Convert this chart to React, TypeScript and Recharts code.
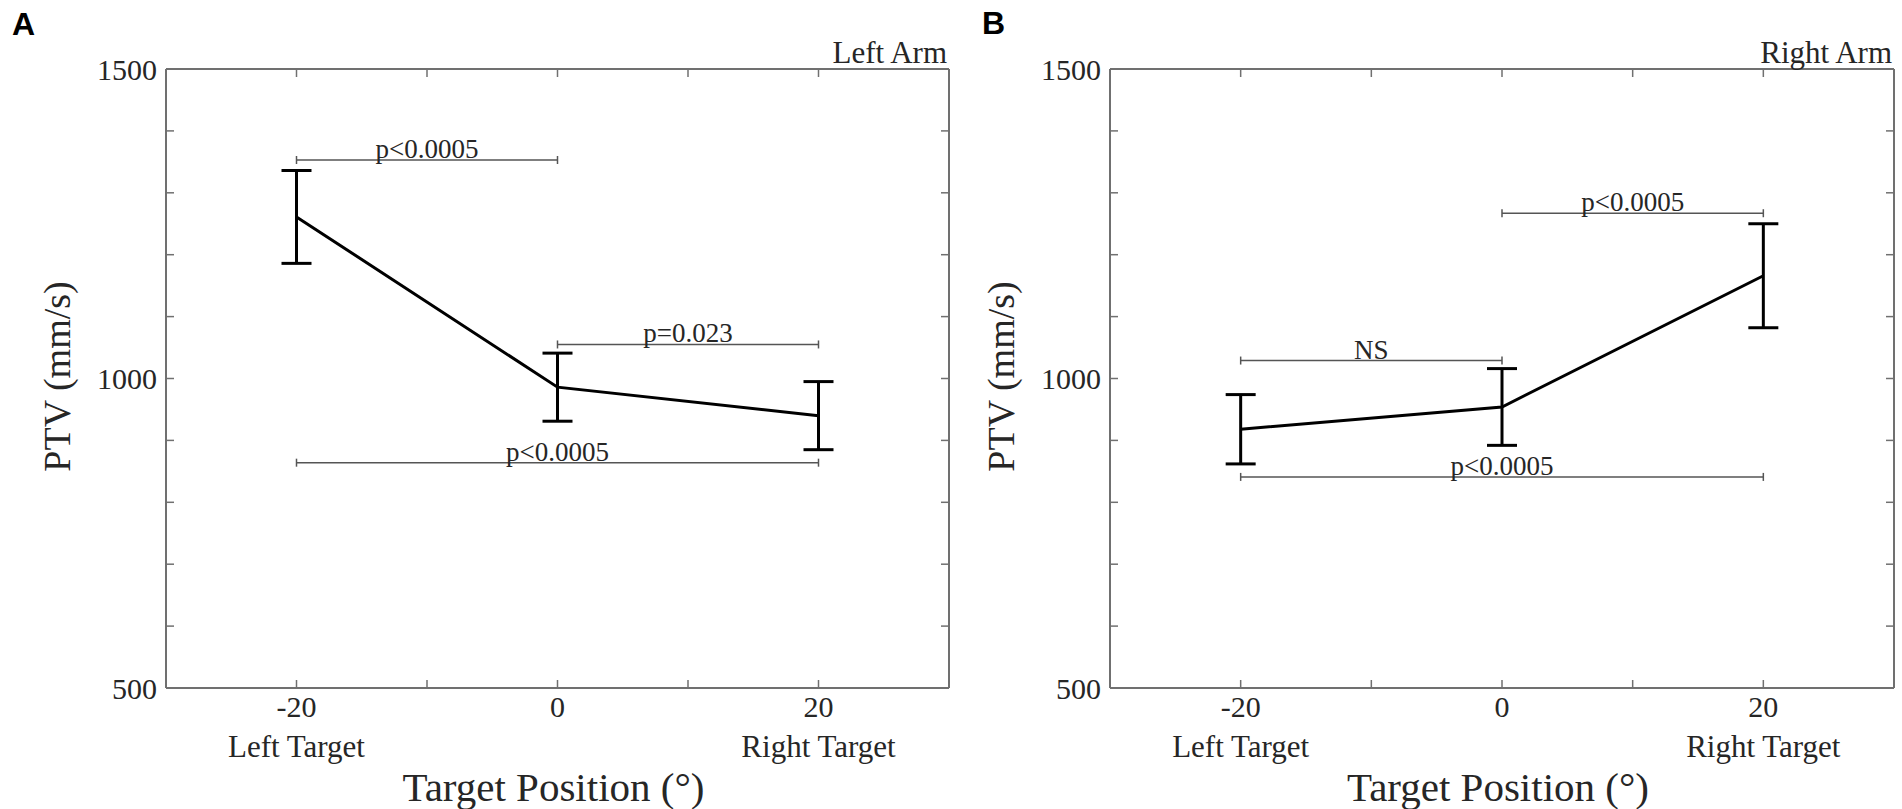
import React from 'react';
import { LineChart, Line, XAxis, YAxis, ErrorBar, ReferenceLine } from 'recharts';

// ---- data ----
const positions = [-20, 0, 20];
const leftArmMean = [1261, 986, 940];
const leftArmErr = [75, 55, 55];
const rightArmMean = [918, 954, 1166];
const rightArmErr = [56, 62, 84];

const xTicks = [-20, -10, 0, 10, 20];
const xLabelTicks = [-20, 0, 20];
const xSubLabels = ['Left Target', '', 'Right Target'];
const yTicks = [500, 600, 700, 800, 900, 1000, 1100, 1200, 1300, 1400, 1500];
const yLabelTicks = [500, 1000, 1500];

const leftBrackets = [
  { from: -20, to: 0, y: 1353, text: 'p<0.0005' },
  { from: 0, to: 20, y: 1055, text: 'p=0.023' },
  { from: -20, to: 20, y: 864, text: 'p<0.0005' },
];
const rightBrackets = [
  { from: -20, to: 0, y: 1029, text: 'NS' },
  { from: 0, to: 20, y: 1267, text: 'p<0.0005' },
  { from: -20, to: 20, y: 841, text: 'p<0.0005' },
];

// ---- styles ----
const SERIF = '"Liberation Serif", "Times New Roman", serif';
const SANS = '"Liberation Sans", Arial, sans-serif';
const FRAME = '#707070';
const TEXT = '#262626';
const BRACKET = '#555';

const YTick = (props: any) => {
  const { x, y, payload } = props;
  const v = payload.value;
  return (
    <g>
      <line x1={x} x2={x + 8} y1={y} y2={y} stroke={FRAME} strokeWidth={1.5} />
      {yLabelTicks.includes(v) && (
        <text x={x - 9} y={y} dy="0.35em" textAnchor="end" fontSize={30} fill={TEXT} fontFamily={SERIF}>
          {v}
        </text>
      )}
    </g>
  );
};

const RightTick = (props: any) => {
  const { x, y } = props;
  return <line x1={x} x2={x - 8} y1={y} y2={y} stroke={FRAME} strokeWidth={1.5} />;
};

const XTick = (props: any) => {
  const { x, y, payload } = props;
  const v = payload.value;
  const idx = xLabelTicks.indexOf(v);
  return (
    <g>
      <line x1={x} x2={x} y1={y} y2={y - 8} stroke={FRAME} strokeWidth={1.5} />
      {idx >= 0 && (
        <text x={x} y={y + 29} textAnchor="middle" fontSize={30} fill={TEXT} fontFamily={SERIF}>
          {v}
        </text>
      )}
      {idx >= 0 && xSubLabels[idx] && (
        <text x={x} y={y + 69} textAnchor="middle" fontSize={31} fill={TEXT} fontFamily={SERIF}>
          {xSubLabels[idx]}
        </text>
      )}
    </g>
  );
};

const TopTick = (props: any) => {
  const { x, y } = props;
  return <line x1={x} x2={x} y1={y} y2={y + 8} stroke={FRAME} strokeWidth={1.5} />;
};

const XTitle = (props: any) => {
  const vb = props.viewBox || {};
  return (
    <text x={vb.x + vb.width / 2 - 4} y={vb.y + 113} textAnchor="middle" fontSize={41} fill={TEXT} fontFamily={SERIF}>
      Target Position (°)
    </text>
  );
};

const YTitle = (props: any) => {
  const vb = props.viewBox || {};
  const bx = vb.x + vb.width - 96;
  const cy = vb.y + vb.height / 2 - 2;
  return (
    <text x={bx} y={cy} transform={`rotate(-90, ${bx}, ${cy})`} textAnchor="middle" fontSize={38} fill={TEXT} fontFamily={SERIF}>
      PTV (mm/s)
    </text>
  );
};

const ArmTitle = (props: any) => {
  const vb = props.viewBox || {};
  return (
    <text x={vb.x + vb.width - 2} y={vb.y + vb.height - 6} textAnchor="end" fontSize={31} fill={TEXT} fontFamily={SERIF}>
      {props.text}
    </text>
  );
};

const Bracket = (props: any) => {
  const { x1, y1, x2, text } = props;
  return (
    <g>
      <line x1={x1} x2={x2} y1={y1} y2={y1} stroke={BRACKET} strokeWidth={1.5} />
      <line x1={x1} x2={x1} y1={y1 - 4} y2={y1 + 4} stroke={BRACKET} strokeWidth={1.5} />
      <line x1={x2} x2={x2} y1={y1 - 4} y2={y1 + 4} stroke={BRACKET} strokeWidth={1.5} />
      <text x={(x1 + x2) / 2} y={y1 - 2} textAnchor="middle" fontSize={27} fill={TEXT} fontFamily={SERIF}>
        {text}
      </text>
    </g>
  );
};

type PanelProps = {
  mean: number[];
  err: number[];
  brackets: { from: number; to: number; y: number; text: string }[];
  title: string;
  yAxisWidth: number;
  rightMargin: number;
};

const Panel = ({ mean, err, brackets, title, yAxisWidth, rightMargin }: PanelProps) => {
  const data = positions.map((x, i) => ({ x, mean: mean[i], err: err[i] }));
  const axisLine = { stroke: FRAME, strokeWidth: 2 };
  return (
    <LineChart width={951} height={809} data={data} margin={{ top: 68, right: rightMargin - 1, bottom: 0, left: 0 }}>
      <XAxis
        xAxisId="b"
        type="number"
        dataKey="x"
        domain={[-30, 30]}
        ticks={xTicks}
        interval={0}
        orientation="bottom"
        height={121}
        tickSize={0}
        tickMargin={0}
        axisLine={axisLine}
        tick={<XTick />}
        label={<XTitle />}
        allowDataOverflow
      />
      <XAxis
        xAxisId="t"
        type="number"
        dataKey="x"
        domain={[-30, 30]}
        ticks={xTicks}
        interval={0}
        orientation="top"
        height={1}
        tickSize={0}
        tickMargin={0}
        axisLine={axisLine}
        tick={<TopTick />}
        label={<ArmTitle text={title} />}
        allowDataOverflow
      />
      <YAxis
        yAxisId="l"
        type="number"
        domain={[500, 1500]}
        ticks={yTicks}
        interval={0}
        width={yAxisWidth}
        tickSize={0}
        tickMargin={0}
        axisLine={axisLine}
        tick={<YTick />}
        label={<YTitle />}
        allowDataOverflow
      />
      <YAxis
        yAxisId="r"
        orientation="right"
        type="number"
        domain={[500, 1500]}
        ticks={yTicks}
        interval={0}
        width={1}
        tickSize={0}
        tickMargin={0}
        axisLine={axisLine}
        tick={<RightTick />}
        allowDataOverflow
      />
      {brackets.map((b, i) => (
        <ReferenceLine
          key={i}
          xAxisId="b"
          yAxisId="l"
          segment={[{ x: b.from, y: b.y }, { x: b.to, y: b.y }]}
          shape={<Bracket text={b.text} />}
        />
      ))}
      {/* invisible series that binds the frame axes (top / right) */}
      <Line
        xAxisId="t"
        yAxisId="r"
        type="linear"
        dataKey="mean"
        stroke="none"
        dot={false}
        activeDot={false}
        legendType="none"
        isAnimationActive={false}
      />
      <Line
        xAxisId="b"
        yAxisId="l"
        type="linear"
        dataKey="mean"
        stroke="#000"
        strokeWidth={3}
        dot={false}
        activeDot={false}
        isAnimationActive={false}
      >
        <ErrorBar dataKey="err" direction="y" width={15} stroke="#000" strokeWidth={3} isAnimationActive={false} />
      </Line>
    </LineChart>
  );
};

export default function App() {
  return (
    <div style={{ position: 'absolute', left: 0, top: 0, width: 1902, height: 809, background: '#fff', overflow: 'hidden' }}>
      <div style={{ position: 'absolute', left: 0, top: 0 }}>
        <Panel mean={leftArmMean} err={leftArmErr} brackets={leftBrackets} title="Left Arm" yAxisWidth={166} rightMargin={2} />
      </div>
      <div style={{ position: 'absolute', left: 951, top: 0 }}>
        <Panel mean={rightArmMean} err={rightArmErr} brackets={rightBrackets} title="Right Arm" yAxisWidth={159} rightMargin={8} />
      </div>
      <svg width={1902} height={809} style={{ position: 'absolute', left: 0, top: 0, pointerEvents: 'none' }}>
        <text x={12} y={35} fontSize={32} fontWeight="bold" fill="#000" fontFamily={SANS}>A</text>
        <text x={982} y={34} fontSize={32} fontWeight="bold" fill="#000" fontFamily={SANS}>B</text>
      </svg>
    </div>
  );
}
